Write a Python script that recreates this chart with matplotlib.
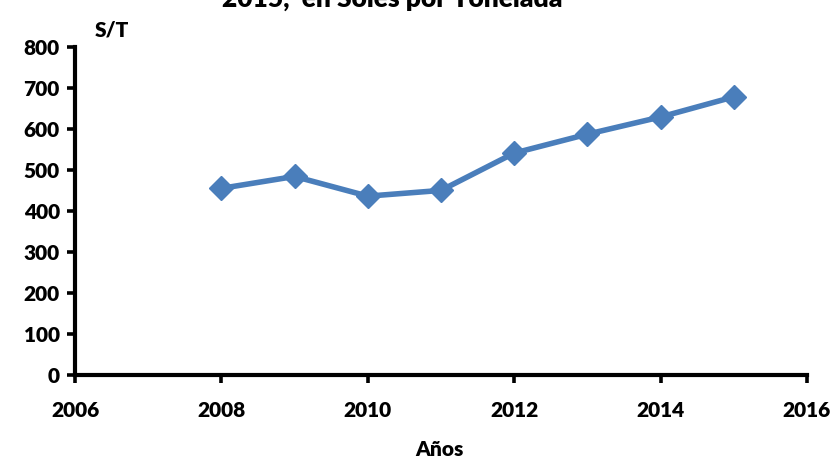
import matplotlib
matplotlib.use("Agg")
import matplotlib.pyplot as plt

# precio por tonelada
years = [2008, 2009, 2010, 2011, 2012, 2013, 2014, 2015]
prices = [455, 484, 436, 450, 541, 587, 629, 678]
x_ticks = [2006, 2008, 2010, 2012, 2014, 2016]
y_ticks = [0, 100, 200, 300, 400, 500, 600, 700, 800]

plt.rcParams["font.family"] = ["Lato", "DejaVu Sans"]
plt.rcParams["font.weight"] = "heavy"

fig = plt.figure(figsize=(8.38, 4.59), dpi=100)
ax = fig.add_axes([0.0895, 0.183, 0.8735, 0.715])

ax.plot(years, prices, color="#4A7EBB", linewidth=4, marker="D",
        markersize=12, markeredgecolor="#4A7EBB", clip_on=False, zorder=3)

ax.set_xlim(2006, 2016)
ax.set_ylim(0, 800)
ax.set_xticks(x_ticks)
ax.set_yticks(y_ticks)
ax.tick_params(axis="both", direction="out", length=6, width=2.6,
               labelsize=15, color="black")
ax.tick_params(axis="x", pad=13)
ax.tick_params(axis="y", pad=5)
for lab in ax.get_xticklabels() + ax.get_yticklabels():
    lab.set_fontweight("heavy")

for side in ["top", "right"]:
    ax.spines[side].set_visible(False)
for side in ["left", "bottom"]:
    ax.spines[side].set_linewidth(3)

fig.text(0.134, 0.935, "S/T", fontsize=15, fontweight="heavy", ha="center", va="center")
fig.text(0.525, 0.02, "Años", fontsize=15, fontweight="heavy", ha="center", va="center")
# titulo cortado arriba, como en el original
fig.text(0.468, 1.003, "2015,  en Soles por Tonelada", fontsize=19, fontweight="heavy",
         ha="center", va="center")

fig.savefig("out.png", dpi=100)
